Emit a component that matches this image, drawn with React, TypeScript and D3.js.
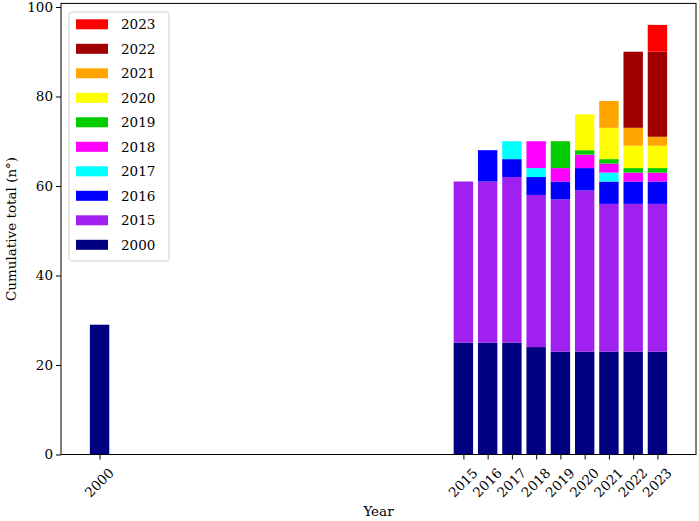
// @ts-nocheck

import React, { useEffect, useRef } from "react";
import * as d3 from "d3";

const years = [2000, 2015, 2016, 2017, 2018, 2019, 2020, 2021, 2022, 2023];
const seriesKeys = ["2000", "2015", "2016", "2017", "2018", "2019", "2020", "2021", "2022", "2023"];
const seriesColors = ["#000080", "#a020f0", "#0000ff", "#00ffff", "#ff00ff", "#00cc00", "#ffff00", "#ffa500", "#a00000", "#ff0000"];

// counts added in each cohort, one value per year above
const s2000 = [29, 25, 25, 25, 24, 23, 23, 23, 23, 23];
const s2015 = [0, 36, 36, 37, 34, 34, 36, 33, 33, 33];
const s2016 = [0, 0, 7, 4, 4, 4, 5, 5, 5, 5];
const s2017 = [0, 0, 0, 4, 2, 0, 0, 2, 0, 0];
const s2018 = [0, 0, 0, 0, 6, 3, 3, 2, 2, 2];
const s2019 = [0, 0, 0, 0, 0, 6, 1, 1, 1, 1];
const s2020 = [0, 0, 0, 0, 0, 0, 8, 7, 5, 5];
const s2021 = [0, 0, 0, 0, 0, 0, 0, 6, 4, 2];
const s2022 = [0, 0, 0, 0, 0, 0, 0, 0, 17, 19];
const s2023 = [0, 0, 0, 0, 0, 0, 0, 0, 0, 6];

const yTicks = [0, 20, 40, 60, 80, 100];

function App() {
  const ref = useRef(null);

  useEffect(() => {
    document.body.style.margin = "0";
    const width = 699,
      height = 521;
    const left = 61,
      right = 696,
      top = 3.4,
      bottom = 454.5;
    const font = "'DejaVu Serif', serif";

    const allSeries = [s2000, s2015, s2016, s2017, s2018, s2019, s2020, s2021, s2022, s2023];
    const table = years.map((yr, i) => {
      const row = { year: yr };
      seriesKeys.forEach((k, j) => (row[k] = allSeries[j][i]));
      return row;
    });

    const svgRoot = d3.select(ref.current);
    svgRoot.selectAll("*").remove();
    const svg = svgRoot.attr("width", width).attr("height", height);

    // matplotlib style margins around bars of width 0.8
    const xmin = 2000 - 0.4,
      xmax = 2023 + 0.4,
      pad = (xmax - xmin) * 0.05;
    const x = d3.scaleLinear().domain([xmin - pad, xmax + pad]).range([left, right]);
    const y = d3.scaleLinear().domain([0, 96 * 1.05]).range([bottom, top]);
    const color = d3.scaleOrdinal().domain(seriesKeys).range(seriesColors);

    const stacked = d3.stack().keys(seriesKeys)(table);
    const barW = x(0.8) - x(0);

    svg
      .append("g")
      .selectAll("g")
      .data(stacked)
      .enter()
      .append("g")
      .attr("fill", (d) => color(d.key))
      .selectAll("rect")
      .data((d) => d.filter((p) => p[1] - p[0] > 0))
      .enter()
      .append("rect")
      .attr("x", (d) => x(d.data.year) - barW / 2)
      .attr("width", barW)
      .attr("y", (d) => y(d[1]))
      .attr("height", (d) => y(d[0]) - y(d[1]));

    // frame
    svg
      .append("rect")
      .attr("x", left)
      .attr("y", top)
      .attr("width", right - left)
      .attr("height", bottom - top)
      .attr("fill", "none")
      .attr("stroke", "#000")
      .attr("stroke-width", 1);

    // y axis
    const yAxis = svg
      .append("g")
      .attr("transform", `translate(${left},0)`)
      .call(d3.axisLeft(y).tickValues(yTicks).tickSize(5).tickPadding(3));
    yAxis.select(".domain").remove();
    yAxis.selectAll("line").attr("stroke", "#000");
    yAxis.selectAll("text").style("font-family", font).style("font-size", "13.5px").attr("fill", "#000");

    // x axis
    const xAxis = svg
      .append("g")
      .attr("transform", `translate(0,${bottom})`)
      .call(d3.axisBottom(x).tickValues(years).tickFormat(d3.format("d")).tickSize(5));
    xAxis.select(".domain").remove();
    xAxis.selectAll("line").attr("stroke", "#000");
    xAxis
      .selectAll("text")
      .style("font-family", font)
      .style("font-size", "13.5px")
      .attr("fill", "#000")
      .attr("text-anchor", "middle")
      .attr("dy", null)
      .attr("dominant-baseline", "central")
      .attr("x", -1)
      .attr("y", 28)
      .attr("transform", "rotate(-45,-1,28)");

    svg
      .append("text")
      .attr("x", (left + right) / 2)
      .attr("y", 516)
      .attr("text-anchor", "middle")
      .style("font-family", font)
      .style("font-size", "13.5px")
      .text("Year");

    svg
      .append("text")
      .attr("transform", `translate(16,${(top + bottom) / 2}) rotate(-90)`)
      .attr("text-anchor", "middle")
      .style("font-family", font)
      .style("font-size", "13.5px")
      .text("Cumulative total (n°)");

    // legend, newest cohort on top
    const legend = svg.append("g").attr("transform", "translate(69,12)");
    legend
      .append("rect")
      .attr("width", 100)
      .attr("height", 249)
      .attr("rx", 3)
      .attr("fill", "#fff")
      .attr("fill-opacity", 0.8)
      .attr("stroke", "#d0d0d0");
    const items = seriesKeys.slice().reverse();
    const rows = legend
      .selectAll("g.item")
      .data(items)
      .enter()
      .append("g")
      .attr("class", "item")
      .attr("transform", (d, i) => `translate(0,${12.3 + i * 24.5})`);
    rows
      .append("rect")
      .attr("x", 7)
      .attr("y", -5)
      .attr("width", 32)
      .attr("height", 10)
      .attr("fill", (d) => color(d));
    rows
      .append("text")
      .attr("x", 52)
      .attr("dy", "0.35em")
      .style("font-family", font)
      .style("font-size", "13.5px")
      .text((d) => d);
  }, []);

  return (
    <div>
      <svg ref={ref}></svg>
    </div>
  );
}

export default App;
